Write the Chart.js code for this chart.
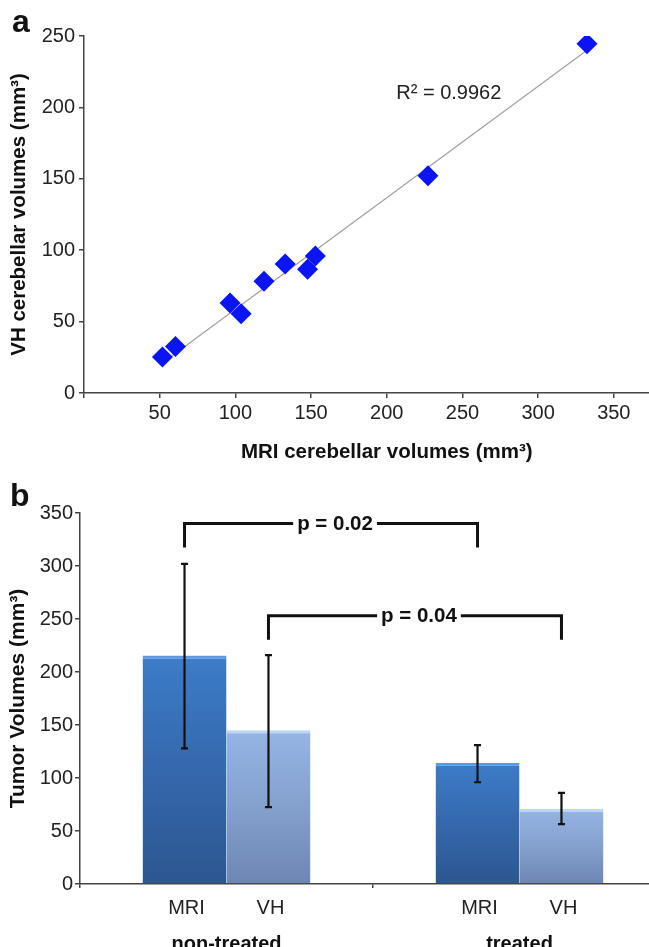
<!DOCTYPE html>
<html><head><meta charset="utf-8">
<script src="https://cdn.jsdelivr.net/npm/chart.js@4.4.1/dist/chart.umd.min.js"></script>
<style>
html,body{margin:0;padding:0;background:#fff;overflow:hidden;width:649px;height:947px;}
#wrap{position:relative;width:649px;height:947px;overflow:hidden;background:#fff;}
#c1{position:absolute;left:0;top:0;}
#c2{position:absolute;left:0;top:470px;}
.lab{position:absolute;font:bold 32px "Liberation Sans",Arial,sans-serif;color:#111;line-height:1;}
</style></head>
<body><div id="wrap">
<canvas id="c1" width="700" height="470"></canvas>
<canvas id="c2" width="670" height="477"></canvas>
<div class="lab" style="left:12px;top:5px">a</div>
<div class="lab" style="left:10px;top:479px">b</div>
</div>
<script>
// ---------- Panel a data ----------
const mriCerebellar = [51.8, 60.4, 96.5, 103.8, 118.9, 132.9, 147.7, 152.8, 227.2, 332.3];
const vhCerebellar  = [25.2, 32.6, 63.1, 55.5, 78.3, 90.4, 86.7, 96.0, 152.1, 244.6];
const trendX = [51.8, 332.3];
const trendY = [21.0, 240.0];
const rSquaredText = 'R² = 0.9962';
const rSquaredPos = [241, 210];

// ---------- Panel b data ----------
const groups = ['non-treated', 'treated'];
const methods = ['MRI', 'VH'];
const mriMeans = [215.5, 114.5];
const vhMeans = [145, 71];
const mriErrHigh = [302, 131];
const mriErrLow = [128, 96];
const vhErrHigh = [216, 86];
const vhErrLow = [72.5, 56.5];
const bracketLabels = ['p = 0.02', 'p = 0.04'];
const bracketSeries = [0, 1];
const bracketTop = [340, 253];
const bracketLegEnd = [317.5, 230.5];

const FONT = "'Liberation Sans', Arial, Helvetica, sans-serif";
const AXIS = '#444';
const TXT = '#222';

// ---------- Panel a ----------
const rPlugin = {
  id: 'rtext',
  afterDatasetsDraw(chart) {
    const c = chart.ctx, xs = chart.scales.x, ys = chart.scales.y;
    c.save();
    c.font = '20px ' + FONT;
    c.fillStyle = TXT;
    c.textAlign = 'center';
    c.textBaseline = 'middle';
    c.fillText(rSquaredText, xs.getPixelForValue(rSquaredPos[0]), ys.getPixelForValue(rSquaredPos[1]));
    c.restore();
  }
};

new Chart(document.getElementById('c1'), {
  type: 'scatter',
  data: {
    datasets: [
      {
        label: 'VH vs MRI',
        data: mriCerebellar.map((x, i) => ({x, y: vhCerebellar[i]})),
        pointStyle: 'rectRot',
        pointRadius: 10.5,
        backgroundColor: '#0a14f5',
        borderColor: '#0a14f5',
        borderWidth: 0,
        order: 1
      },
      {
        label: 'trend',
        type: 'line',
        data: trendX.map((x, i) => ({x, y: trendY[i]})),
        borderColor: '#a0a0a0',
        borderWidth: 1.2,
        pointRadius: 0,
        fill: false,
        order: 2
      }
    ]
  },
  options: {
    responsive: false,
    animation: false,
    devicePixelRatio: 1,
    layout: {padding: {top: 36, right: 4, left: 0, bottom: 0}},
    plugins: {legend: {display: false}, tooltip: {enabled: false}},
    scales: {
      x: {
        type: 'linear', min: 0, max: 400,
        afterFit(s) { s.height = 77; },
        ticks: {stepSize: 50, color: TXT, font: {family: FONT, size: 20}, padding: 3,
          callback: v => (v === 0 || v === 400) ? '' : v},
        grid: {display: true, drawOnChartArea: false, drawTicks: true, tickLength: 5, color: AXIS, lineWidth: 1.5},
        border: {display: true, color: AXIS, width: 1.5},
        title: {display: true, text: 'MRI cerebellar volumes (mm³)', color: '#111',
          font: {family: FONT, size: 20.5, weight: 'bold'}, padding: {top: 6, bottom: 5}}
      },
      y: {
        min: 0, max: 250,
        afterFit(s) { s.width = 84; },
        ticks: {stepSize: 50, color: TXT, font: {family: FONT, size: 20}, padding: 4},
        grid: {display: true, drawOnChartArea: false, drawTicks: true, tickLength: 5, color: AXIS, lineWidth: 1.5},
        border: {display: true, color: AXIS, width: 1.5},
        title: {display: true, text: 'VH cerebellar volumes (mm³)', color: '#111',
          font: {family: FONT, size: 20.5, weight: 'bold'}, padding: {top: 7, bottom: 0}}
      }
    }
  },
  plugins: [rPlugin]
});

// ---------- Panel b ----------
function barGradient(stops, fallback) {
  return (ctx) => {
    const chart = ctx.chart;
    const ys = chart.scales && chart.scales.y;
    if (!chart.chartArea || !ys || ctx.raw === undefined) return fallback;
    const top = ys.getPixelForValue(ctx.raw);
    const bottom = ys.getPixelForValue(0);
    const g = chart.ctx.createLinearGradient(0, top, 0, bottom);
    stops.forEach(s => g.addColorStop(s[0], s[1]));
    return g;
  };
}

const errPlugin = {
  id: 'extras',
  afterDatasetsDraw(chart) {
    const c = chart.ctx, ys = chart.scales.y;
    const highs = [mriErrHigh, vhErrHigh], lows = [mriErrLow, vhErrLow];
    c.save();
    c.strokeStyle = '#111';
    c.lineWidth = 2.2;
    for (let d = 0; d < 2; d++) {
      chart.getDatasetMeta(d).data.forEach((el, j) => {
        const yh = ys.getPixelForValue(highs[d][j]);
        const yl = ys.getPixelForValue(lows[d][j]);
        c.beginPath();
        c.moveTo(el.x, yh); c.lineTo(el.x, yl);
        c.moveTo(el.x - 3.5, yh); c.lineTo(el.x + 3.5, yh);
        c.moveTo(el.x - 3.5, yl); c.lineTo(el.x + 3.5, yl);
        c.stroke();
      });
    }
    bracketLabels.forEach((lab, k) => {
      const els = chart.getDatasetMeta(bracketSeries[k]).data;
      const x1 = els[0].x, x2 = els[1].x;
      const yt = ys.getPixelForValue(bracketTop[k]);
      const yb = ys.getPixelForValue(bracketLegEnd[k]);
      c.lineWidth = 3;
      c.lineJoin = 'miter';
      c.beginPath();
      c.moveTo(x1, yb); c.lineTo(x1, yt); c.lineTo(x2, yt); c.lineTo(x2, yb);
      c.stroke();
      c.font = 'bold 20.5px ' + FONT;
      const w = c.measureText(lab).width;
      const xm = (x1 + x2) / 2 + 4;
      c.fillStyle = '#fff';
      c.fillRect(xm - w / 2 - 4, yt - 12, w + 8, 24);
      c.fillStyle = '#111';
      c.textAlign = 'center';
      c.textBaseline = 'middle';
      c.fillText(lab, xm, yt + 1);
    });
    c.restore();
  },
  afterDraw(chart) {
    const c = chart.ctx;
    c.save();
    c.font = '20px ' + FONT;
    c.fillStyle = TXT;
    c.textAlign = 'center';
    c.textBaseline = 'middle';
    for (let d = 0; d < 2; d++) {
      chart.getDatasetMeta(d).data.forEach(el => {
        c.fillText(methods[d], el.x + 2, chart.chartArea.bottom + 24);
      });
    }
    c.restore();
  }
};

new Chart(document.getElementById('c2'), {
  type: 'bar',
  data: {
    labels: groups,
    datasets: [
      {
        label: methods[0], data: mriMeans,
        backgroundColor: barGradient([[0, '#3c7cc9'], [0.5, '#3568ad'], [1, '#2c5690']], '#3568ad'),
        borderColor: '#5e98de',
        borderWidth: {top: 3, left: 0, right: 0, bottom: 0},
        borderSkipped: 'bottom'
      },
      {
        label: methods[1], data: vhMeans,
        backgroundColor: barGradient([[0, '#95b5e5'], [0.5, '#84a0cd'], [1, '#6e86b3']], '#84a0cd'),
        borderColor: '#bcd6f5',
        borderWidth: {top: 3, left: 0, right: 0, bottom: 0},
        borderSkipped: 'bottom'
      }
    ]
  },
  options: {
    responsive: false,
    animation: false,
    devicePixelRatio: 1,
    categoryPercentage: 0.573,
    barPercentage: 1.0,
    layout: {padding: {top: 43, right: 4, left: 0, bottom: 0}},
    plugins: {legend: {display: false}, tooltip: {enabled: false}},
    scales: {
      x: {
        afterFit(s) { s.height = 63; },
        ticks: {color: '#111', font: {family: FONT, size: 20, weight: 'bold'}, padding: 44},
        grid: {display: true, drawOnChartArea: false, drawTicks: true, tickLength: 4, color: AXIS, lineWidth: 1.5, offset: true},
        border: {display: true, color: AXIS, width: 1.5}
      },
      y: {
        min: 0, max: 350,
        afterFit(s) { s.width = 80; },
        ticks: {stepSize: 50, color: TXT, font: {family: FONT, size: 20}, padding: 2},
        grid: {display: true, drawOnChartArea: false, drawTicks: true, tickLength: 5, color: AXIS, lineWidth: 1.5},
        border: {display: true, color: AXIS, width: 1.5},
        title: {display: true, text: 'Tumor Volumes (mm³)', color: '#111',
          font: {family: FONT, size: 21, weight: 'bold'}, padding: {top: 6, bottom: 0}}
      }
    }
  },
  plugins: [errPlugin]
});
</script>
</body></html>
